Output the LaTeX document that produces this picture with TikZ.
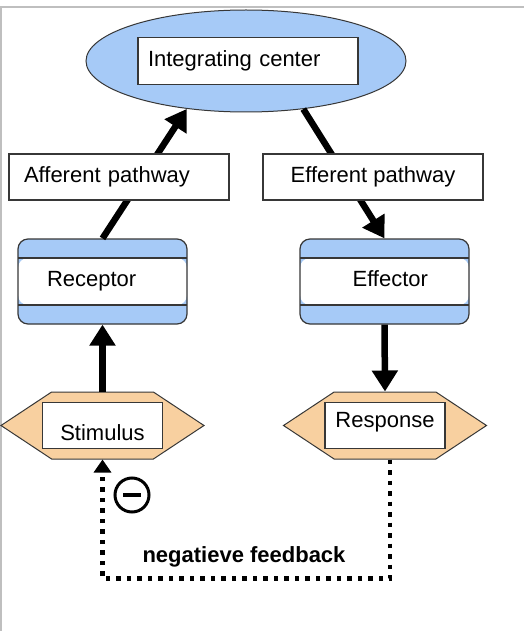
\documentclass[tikz,border=0pt]{standalone}
\usepackage{fontspec}
\setmainfont{Liberation Sans}
\usetikzlibrary{shapes.geometric,shapes.symbols,arrows.meta}
\definecolor{bandblue}{RGB}{166,202,247}
\definecolor{hexorange}{RGB}{248,208,160}
\definecolor{edge}{RGB}{55,55,55}
\begin{document}
\begin{tikzpicture}[x=1pt,y=-1pt,
    font=\fontsize{22}{26}\selectfont,
    centre/.style={ellipse,draw=edge,line width=1pt,fill=bandblue,minimum width=320pt,minimum height=102pt,inner sep=0pt},
    box/.style={draw=edge,line width=1.2pt,fill=white,minimum width=220pt,minimum height=46pt,inner sep=0pt},
    organ/.style={draw=edge,line width=1.2pt,fill=bandblue,rounded corners=10pt,minimum width=169pt,minimum height=85pt,inner sep=0pt,text depth=5pt,
        path picture={
            \fill[white] ([yshift=-19pt]path picture bounding box.north west) rectangle ([yshift=19pt]path picture bounding box.south east);
            \draw[edge,line width=1.2pt] ([yshift=-19pt]path picture bounding box.north west) -- ([yshift=-19pt]path picture bounding box.north east)
                ([yshift=19pt]path picture bounding box.south west) -- ([yshift=19pt]path picture bounding box.south east);}},
    hexa/.style={signal,signal to=west and east,signal pointer angle=67,draw=edge,line width=1pt,fill=hexorange,minimum width=203pt,minimum height=67pt,inner sep=0pt},
    arr/.style={line width=6.5pt,-{Triangle[length=21pt,width=25pt]}},
    fb/.style={line width=4.5pt,dash pattern=on 4.5pt off 6pt,-{Triangle[length=13pt,width=17pt]}},
    minus/.style={circle,draw,line width=3pt,minimum size=34pt,inner sep=0pt}]
    \useasboundingbox (0,0) rectangle (524,631);
    %% frame of the screenshot
    \draw[black!25,line width=1.5pt] (1,631) -- (1,7) -- (524,7);
    %% integrating center
    \node[centre] (integr) at (246,61) {};
    \node[box,text width=200pt,align=left,inner xsep=10pt,minimum height=47pt] (integrbox) at (248,61) {Integrating center};
    %% receptor and effector
    \node[organ,text width=111pt,align=left,inner xsep=29pt] (rec) at (102.5,281.5) {Receptor};
    \node[organ,text width=87pt,align=right,inner xsep=41pt] (eff) at (384.5,281.5) {Effector};
    \draw[arr] (rec.north) -- (integr.219);
    \draw[arr] (integr.320) -- (eff.north);
    %% pathways
    \node[box,text width=190pt,align=left,inner xsep=15pt] (afferent) at (119,177) {Afferent pathway};
    \node[box] (efferent) at (373,177) {Efferent pathway};
    %% stimulus and response
    \node[hexa] (stim) at (102.5,425.5) {};
    \node[box,minimum width=120pt,text height=30pt,text depth=0pt] (stimbox) at (stim) {Stimulus};
    \node[hexa] (resp) at (385,425.5) {};
    \node[box,minimum width=120pt,text height=16pt,text depth=12pt] (respbox) at (resp) {Response};
    \draw[arr] (stim.north) -- (rec.south);
    \draw[arr] (eff.south) -- (resp.north);
    %% feedback loop
    \draw[fb] ([xshift=5pt]resp.south) -- ++(0,119) -| (stim.south);
    \node[minus] (neg) at (132,495) {};
    \draw[line width=4pt] ([xshift=-9pt]neg.center) -- ([xshift=9pt]neg.center);
    \node[font=\fontsize{22}{26}\selectfont\bfseries] (fblabel) at (244,557) {negatieve feedback};
\end{tikzpicture}
\end{document}
